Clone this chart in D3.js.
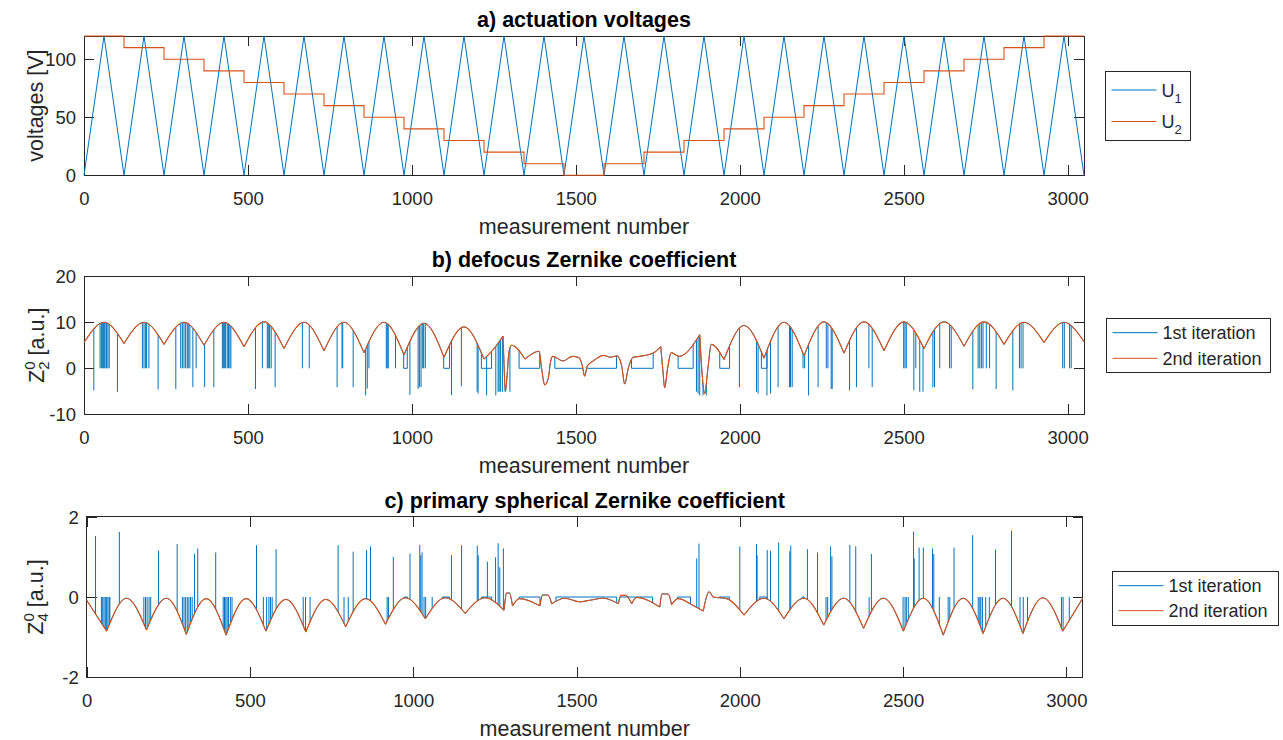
<!DOCTYPE html>
<html>
<head>
<meta charset="utf-8">
<script src="https://cdn.jsdelivr.net/npm/d3@7"></script>
<style>
  body { margin: 0; background: #fff; }
  text { font-family: "Liberation Sans", Arial, Helvetica, sans-serif; fill: #262626; }
</style>
</head>
<body>
<script>
// ---- data ----
var measurementCount = 3050;
var xTicks = [0, 500, 1000, 1500, 2000, 2500, 3000];

// a) U1 triangle: value at every half period (61 measurements)
var u1HalfPeriod = 61;
var u1Values = [0,120,0,120,0,120,0,120,0,120,0,120,0,120,0,120,0,120,0,120,0,120,0,120,0,120,
                0,120,0,120,0,120,0,120,0,120,0,120,0,120,0,120,0,120,0,120,0,120,0,120,0];
// a) U2 staircase: one level per U1 period (122 measurements)
var u2StepLength = 122;
var u2Levels = [120,110,100,90,80,70,60,50,40,30,20,10,0,10,20,30,40,50,60,70,80,90,100,110,120];
var voltageTicks = [0, 50, 100];

// b) defocus, 2nd iteration: [measurement, value]
var defocusKnots = [[0,5.6],[61,10],[122,5.4],[183,10],[244,5.2],[305,10],[366,5.0],[427,10],[488,4.7],
  [549,10.1],[610,4.3],[671,10],[732,3.8],[793,10],[854,3.4],[915,10],[976,2.9],[1037,9.8],[1098,2.4],
  [1159,9.0],[1220,2.0],[1253,4.5],[1278,7.0],[1281,1.0],[1285,-5.1],[1290,-2.0],[1296,3.5],[1304,5.0],
  [1345,2.0],[1388,3.7],[1395,0.4],[1400,-2.2],[1405,-3.6],[1416,-2.2],[1423,1.4],[1429,2.6],[1461,1.6],
  [1490,2.6],[1510,2.3],[1520,0.5],[1527,-1.7],[1535,0.5],[1553,1.6],[1585,2.8],[1605,2.4],[1626,2.7],
  [1640,0.5],[1649,-3.4],[1660,0],[1675,2.4],[1695,2.6],[1736,3.3],[1759,4.7],[1765,0],[1771,-4.2],
  [1780,0],[1791,3.4],[1815,2.6],[1878,7.3],[1884,0],[1893,-5.5],[1903,0],[1913,5.2],[1952,1.9],
  [2013,9.3],[2074,2.2],[2135,10],[2196,2.7],[2257,10.1],[2318,3.3],[2379,10.1],[2440,3.8],[2501,10.1],
  [2562,4.3],[2623,10.1],[2684,4.8],[2745,10.1],[2806,5.2],[2867,10],[2928,5.6],[2989,10],[3050,5.8]];
var defocusKinks = [122,244,366,488,610,732,854,976,1098,1220,1278,1345,1759,1878,1952,
  2074,2196,2318,2440,2562,2684,2806,2928];
// b) defocus, 1st iteration: outliers [measurement, value] and runs stuck at 0 [from, to]
var defocusSpikes = [[30,-4.8],[49,0],[53,0],[57,0],[59,0],[63,0],[67,0],[69,0],[73,0],[77,0],[102,-5.1],
  [178,0],[183,0],[188,0],[191,0],[198,0],[226,-4.6],[280,-4.5],
  [295,0],[300,0],[305,0],[310,0],[315,0],[318,0],[323,0],[332,-4.1],[342,0],[368,-4.1],[396,-4.1],
  [422,0],[425,0],[429,0],[432,0],[437,0],[441,0],[445,0],[448,0],
  [523,-4.5],[544,0],[559,0],[562,0],[566,0],[571,0],[583,-4.1],
  [666,0],[687,0],[772,-4.1],[787,0],[789,0],[821,-4.1],
  [859,-5.9],[864,-4.4],[869,0],[922,0],[925,0],[928,0],[950,0],
  [994,-5.8],[1019,-4.5],[1023,-4.1],[1028,-4.1],[1033,0],[1036,0],[1041,0],
  [1121,-5.8],[1151,-3.9],[1199,-5.1],[1202,-5.5],
  [1228,-5.9],[1256,-5.9],[1263,-5.1],[1266,-5.1],[1270,-5.1],[1276,-5.1],[1299,-5.1],
  [1868,-5.1],[1873,-5.5],[1878,-5.9],[1888,-5.9],[1898,-5.9],
  [1999,-4.1],[2051,-5.1],[2056,-5.5],[2083,-5.9],[2094,-5.5],[2117,-4.1],
  [2152,-4.1],[2155,-4.1],[2160,-4.1],[2193,0],[2198,0],[2210,-5.9],[2239,-4.1],
  [2264,0],[2269,0],[2279,-4.5],[2282,-4.5],[2335,-4.8],[2356,-4.1],[2394,0],[2404,-4.1],
  [2500,0],[2504,0],[2508,0],[2531,-4.8],[2537,0],[2549,-5.1],[2559,-5.1],[2589,-4.1],[2594,-4.1],
  [2610,0],[2640,0],[2645,0],
  [2711,-4.6],[2727,0],[2732,0],[2737,0],[2742,0],[2752,0],[2762,0],[2782,-4.5],[2833,-4.8],
  [2853,0],[2858,0],[2864,0],[2985,0],[2990,0],[3006,0],[3011,0]];
var defocusFlats = [[975,986],[1097,1115],[1212,1243],[1327,1390],[1436,1521],[1533,1624],
  [1670,1736],[1812,1858],[1939,1969],[2066,2083]];
var defocusTicks = [-10, 0, 10, 20];

// c) primary spherical, 2nd iteration
var sphericalKnots = [[0,-0.08],[61,-0.85],[122,-0.03],[183,-0.82],[244,-0.03],[305,-0.93],[366,-0.04],
  [427,-0.95],[488,-0.04],[549,-0.85],[610,-0.06],[671,-0.87],[732,-0.06],[793,-0.74],[854,-0.04],
  [915,-0.68],[976,-0.02],[1037,-0.54],[1098,-0.02],[1159,-0.41],[1220,-0.02],[1278,-0.33],[1286,0.10],
  [1294,0.10],[1304,-0.22],[1325,-0.04],[1388,-0.22],[1396,0.05],[1412,0.05],[1424,-0.17],[1464,-0.03],
  [1510,-0.12],[1541,-0.08],[1582,-0.03],[1628,-0.17],[1636,0.04],[1650,0.04],[1669,-0.17],[1684,-0.01],
  [1755,-0.25],[1762,0.08],[1781,0.07],[1791,-0.19],[1811,-0.04],[1857,-0.21],[1888,-0.35],[1906,0.13],
  [1919,0.0],[1959,-0.04],[2013,-0.45],[2074,-0.03],[2135,-0.54],[2196,-0.03],[2257,-0.70],[2318,-0.03],
  [2379,-0.78],[2440,-0.03],[2501,-0.85],[2562,-0.03],[2623,-0.95],[2684,-0.03],[2745,-0.91],[2806,-0.03],
  [2867,-0.91],[2928,-0.02],[2989,-0.85],[3050,-0.03]];
var sphericalKinks = [61,183,305,427,549,671,793,915,1037,1159,1278,1304,1388,1424,1628,1669,1755,1791,
  1888,2013,2135,2257,2379,2501,2623,2745,2867,2989];
var sphericalSpikes = [[27,1.52],[100,1.62],[220,1.15],[277,1.32],[330,1.07],[340,1.21],[395,1.11],
  [520,1.29],[580,1.19],[770,1.29],[816,1.13],[857,1.17],[869,1.26],[939,1.0],[990,1.08],[1020,1.30],
  [1023,1.04],[1027,1.11],[1117,1.04],[1148,1.29],[1196,1.28],[1199,1.04],[1227,0.88],[1252,0.99],
  [1260,1.34],[1265,0.74],[1276,1.21],[1868,0.96],[1875,1.33],[2000,1.26],[2051,1.32],[2053,1.04],
  [2084,1.17],[2094,1.15],[2119,1.36],[2153,1.14],[2156,1.28],[2207,1.19],[2238,1.11],[2278,1.26],
  [2282,1.01],[2337,1.30],[2355,1.26],[2403,1.07],[2532,1.63],[2534,0.96],[2549,1.23],[2562,1.23],
  [2590,1.21],[2594,1.07],[2656,1.23],[2713,1.54],[2783,1.18],[2832,1.65],
  [45,0],[49,0],[53,0],[57,0],[61,0],[65,0],[69,0],[71,0],[175,0],[180,0],[185,0],[191,0],[196,0],
  [293,0],[298,0],[303,0],[308,0],[313,0],[318,0],[323,0],[418,0],[422,0],[426,0],[430,0],[434,0],
  [440,0],[445,0],[541,0],[551,0],[558,0],[563,0],[568,0],[663,0],[670,0],[684,0],[788,0],[801,0],
  [920,0],[924,0],[1033,0],[1038,0],[1058,0],[2264,0],[2269,0],[2396,0],[2500,0],[2506,0],[2510,0],
  [2516,0],[2611,0],[2638,0],[2643,0],[2730,0],[2735,0],[2738,0],[2743,0],[2753,0],[2764,0],[2858,0],
  [2868,0],[2881,0],[2985,0],[2990,0],[3009,0]];
var sphericalFlats = [[972,982],[1089,1111],[1209,1240],[1325,1388],[1437,1623],[1633,1733],
  [1809,1849],[1937,1968],[2061,2082],[2191,2197]];
var sphericalTicks = [-2, 0, 2];

// ---- drawing ----
var blue = '#0072bd', orange = '#d95319', ink = '#262626';

var svg = d3.select('body').append('svg')
  .attr('width', 1283).attr('height', 740)
  .style('background-color', '#fff');
var defs = svg.append('defs');

// plain hyphen like the original, not the unicode minus
var plainNumber = function(d) { return String(d); };

function makeAxes(p) {
  var x = d3.scaleLinear().domain([0, measurementCount]).range([p.left, p.right]);
  var y = d3.scaleLinear().domain(p.yDomain).range([p.bottom, p.top]);
  var g = svg.append('g');

  g.append('rect')
    .attr('x', p.left).attr('y', p.top)
    .attr('width', p.right - p.left).attr('height', p.bottom - p.top)
    .attr('fill', 'none').attr('stroke', ink).attr('stroke-width', 1)
    .attr('shape-rendering', 'crispEdges');

  var bottom = g.append('g').attr('transform', 'translate(0,' + p.bottom + ')')
    .call(d3.axisBottom(x).tickValues(xTicks).tickSize(-10).tickFormat(plainNumber));
  bottom.selectAll('text').attr('y', 30).attr('dy', null).style('font-size', '18.5px');
  g.append('g').attr('transform', 'translate(0,' + p.top + ')')
    .call(d3.axisTop(x).tickValues(xTicks).tickSize(-10).tickFormat(''));
  var left = g.append('g').attr('transform', 'translate(' + p.left + ',0)')
    .call(d3.axisLeft(y).tickValues(p.yTicks).tickSize(-10).tickPadding(8).tickFormat(plainNumber));
  left.selectAll('text').style('font-size', '18.5px').attr('dy', '0.36em');
  g.append('g').attr('transform', 'translate(' + p.right + ',0)')
    .call(d3.axisRight(y).tickValues(p.yTicks).tickSize(-10).tickFormat(''));
  g.selectAll('.domain').remove();
  g.selectAll('.tick line').attr('stroke', ink).attr('shape-rendering', 'crispEdges');
  g.selectAll('.tick text').attr('fill', ink);

  g.append('text')
    .attr('x', (p.left + p.right) / 2).attr('y', p.top - 9)
    .attr('text-anchor', 'middle')
    .style('font-size', '21.5px').style('font-weight', 'bold').style('fill', '#000')
    .text(p.title);

  g.append('text')
    .attr('x', (p.left + p.right) / 2).attr('y', p.bottom + 59)
    .attr('text-anchor', 'middle').style('font-size', '21.5px')
    .text('measurement number');

  return {g: g, x: x, y: y};
}

function zLabel(g, xPos, yPos, sub) {
  var t = g.append('text')
    .attr('transform', 'translate(' + xPos + ',' + yPos + ') rotate(-90)')
    .attr('text-anchor', 'middle').style('font-size', '21.5px');
  t.append('tspan').text('Z');
  t.append('tspan').attr('dy', -9).style('font-size', '15px').text('0');
  t.append('tspan').attr('dx', -8.3).attr('dy', 14).style('font-size', '15px').text(sub);
  t.append('tspan').attr('dy', -5).text(' [a.u.]');
}

function legend(g, bx, by, bw, bh, rows) {
  var lg = g.append('g');
  lg.append('rect').attr('x', bx).attr('y', by).attr('width', bw).attr('height', bh)
    .attr('fill', '#fff').attr('stroke', ink).attr('stroke-width', 1)
    .attr('shape-rendering', 'crispEdges');
  rows.forEach(function(r) {
    lg.append('line').attr('x1', bx + 6).attr('x2', bx + 51).attr('y1', by + r.dy).attr('y2', by + r.dy)
      .attr('stroke', r.color).attr('stroke-width', 1);
    var t = lg.append('text').attr('x', bx + 56).attr('y', by + r.dy + 6.5).style('font-size', '18px');
    t.append('tspan').text(r.label);
    if (r.sub) t.append('tspan').attr('dy', 6).style('font-size', '13px').text(r.sub);
  });
}

function splitAtKinks(knots, kinks) {
  var out = [], cur = [];
  knots.forEach(function(k) {
    cur.push(k);
    if (kinks.indexOf(k[0]) >= 0 && cur.length > 1) { out.push(cur); cur = [k]; }
  });
  if (cur.length > 1) out.push(cur);
  return out;
}

function drawIterations(ax, cfg) {
  var x = ax.x, y = ax.y, g = ax.g;
  var pieces = splitAtKinks(cfg.knots, cfg.kinks);
  var line = d3.line().x(function(d) { return x(d[0]); }).y(function(d) { return y(d[1]); })
    .curve(d3.curveMonotoneX);
  var area = d3.area().x(function(d) { return x(d[0]); }).y0(y(cfg.clipEdge)).y1(function(d) { return y(d[1]); })
    .curve(d3.curveMonotoneX);

  var clip = defs.append('clipPath').attr('id', cfg.id);
  clip.selectAll('path').data(pieces).enter().append('path').attr('d', area);

  // 1st iteration
  g.append('g').selectAll('path').data(pieces).enter().append('path')
    .attr('d', line).attr('fill', 'none').attr('stroke', blue).attr('stroke-width', 1);

  g.append('g').selectAll('line').data(cfg.flats).enter().append('line')
    .attr('x1', function(d) { return x(d[0]); }).attr('x2', function(d) { return x(d[1]); })
    .attr('y1', y(0)).attr('y2', y(0))
    .attr('stroke', blue).attr('stroke-width', 1);

  var ends = [];
  cfg.flats.forEach(function(f) { ends.push([f[0], 0]); ends.push([f[1], 0]); });
  g.append('g').attr('clip-path', 'url(#' + cfg.id + ')')
    .selectAll('line').data(cfg.spikes.concat(ends)).enter().append('line')
    .attr('x1', function(d) { return x(d[0]); }).attr('x2', function(d) { return x(d[0]); })
    .attr('y1', function(d) { return y(d[1]); }).attr('y2', y(cfg.lineEdge))
    .attr('stroke', blue).attr('stroke-width', 1);

  // 2nd iteration
  g.append('g').selectAll('path').data(pieces).enter().append('path')
    .attr('d', line).attr('fill', 'none').attr('stroke', orange).attr('stroke-width', 1.1);
}

// panel a
var a = makeAxes({left: 84, right: 1084, top: 36, bottom: 175.3, yDomain: [0, 120],
  yTicks: voltageTicks, title: 'a) actuation voltages'});
a.g.append('text')
  .attr('transform', 'translate(43,' + ((36 + 175.3) / 2) + ') rotate(-90)')
  .attr('text-anchor', 'middle').style('font-size', '21.5px')
  .text('voltages [V]');

var u1Points = u1Values.map(function(v, i) { return [i * u1HalfPeriod, v]; });
var u2Points = u2Levels.map(function(v, i) { return [i * u2StepLength, v]; });
u2Points.push([u2Levels.length * u2StepLength, u2Levels[u2Levels.length - 1]]);

a.g.append('path').datum(u1Points)
  .attr('d', d3.line().x(function(d) { return a.x(d[0]); }).y(function(d) { return a.y(d[1]); }))
  .attr('fill', 'none').attr('stroke', blue).attr('stroke-width', 1);
a.g.append('path').datum(u2Points)
  .attr('d', d3.line().x(function(d) { return a.x(d[0]); }).y(function(d) { return a.y(d[1]); })
    .curve(d3.curveStepAfter))
  .attr('fill', 'none').attr('stroke', orange).attr('stroke-width', 1.1);
legend(a.g, 1105.5, 71, 84.5, 69.5, [
  {label: 'U', sub: '1', color: blue, dy: 19},
  {label: 'U', sub: '2', color: orange, dy: 50.5}]);

// panel b
var b = makeAxes({left: 84, right: 1084, top: 276.3, bottom: 414.3, yDomain: [-10, 20],
  yTicks: defocusTicks, title: 'b) defocus Zernike coefficient'});
zLabel(b.g, 44, (276.3 + 414.3) / 2, '2');
drawIterations(b, {id: 'clip-b', knots: defocusKnots, kinks: defocusKinks, spikes: defocusSpikes,
  flats: defocusFlats, clipEdge: -10, lineEdge: 20});
legend(b.g, 1106.5, 318.3, 164, 54.4, [
  {label: '1st iteration', color: blue, dy: 14.4},
  {label: '2nd iteration', color: orange, dy: 40}]);

// panel c
var c = makeAxes({left: 86.7, right: 1082.7, top: 516.7, bottom: 677.3, yDomain: [-2, 2],
  yTicks: sphericalTicks, title: 'c) primary spherical Zernike coefficient'});
zLabel(c.g, 43, (516.7 + 677.3) / 2, '4');
drawIterations(c, {id: 'clip-c', knots: sphericalKnots, kinks: sphericalKinks, spikes: sphericalSpikes,
  flats: sphericalFlats, clipEdge: 2, lineEdge: -2});
legend(c.g, 1112.5, 571, 166, 54, [
  {label: '1st iteration', color: blue, dy: 14.7},
  {label: '2nd iteration', color: orange, dy: 39.7}]);
</script>
</body>
</html>
